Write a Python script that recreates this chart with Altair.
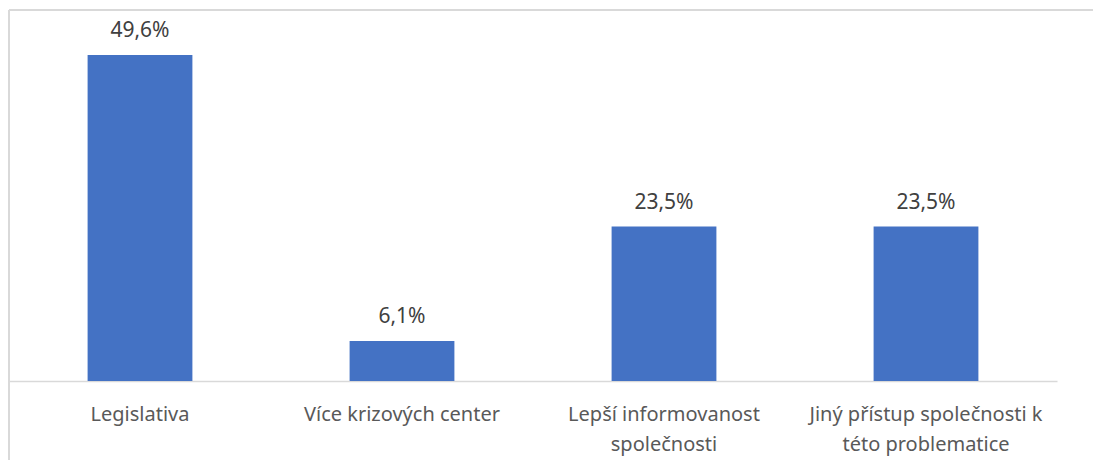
import altair as alt
import pandas as pd

categories = [
    "Legislativa",
    "Více krizových center",
    "Lepší informovanost\nspolečnosti",
    "Jiný přístup společnosti k\ntéto problematice",
]
values = [49.6, 6.1, 23.5, 23.5]
labels = ["49,6%", "6,1%", "23,5%", "23,5%"]

df = pd.DataFrame({"cat": categories, "val": values, "lab": labels})

FONT = "Noto Sans"
W, H = 1048, 371

x = alt.X(
    "cat:N",
    sort=categories,
    title=None,
    scale=alt.Scale(paddingInner=0.6, paddingOuter=0.3),
    axis=alt.Axis(
        labelAngle=0,
        labelExpr="split(datum.label, '\\n')",
        labelFont=FONT,
        labelFontSize=20,
        labelColor="#595959",
        labelLineHeight=30,
        labelPadding=23,
        labelLimit=400,
        ticks=False,
        domainColor="#D9D9D9",
        domainWidth=1.5,
    ),
)
y = alt.Y("val:Q", scale=alt.Scale(domain=[0, 56.44], nice=False), axis=None)

bars = alt.Chart(df).mark_bar(color="#4472C4").encode(x=x, y=y)
text = alt.Chart(df).mark_text(
    baseline="bottom", dy=-14, font=FONT, fontSize=21, color="#404040"
).encode(x=x, y=y, text="lab:N")

top_border = alt.Chart(df).mark_rule(color="#D9D9D9", strokeWidth=2).encode(
    x=alt.value(0), x2=alt.value(1084), y=alt.value(0)
)
left_border = alt.Chart(df).mark_rule(color="#D9D9D9", strokeWidth=2).encode(
    x=alt.value(0), y=alt.value(0), y2=alt.value(450)
)

chart = (
    alt.layer(top_border, left_border, bars, text)
    .properties(width=W, height=H, padding={"left": 0, "top": 1, "right": 0, "bottom": 0})
    .configure_view(stroke=None)
)

chart.save("out.html", embed_options={"renderer": "svg", "actions": False})
